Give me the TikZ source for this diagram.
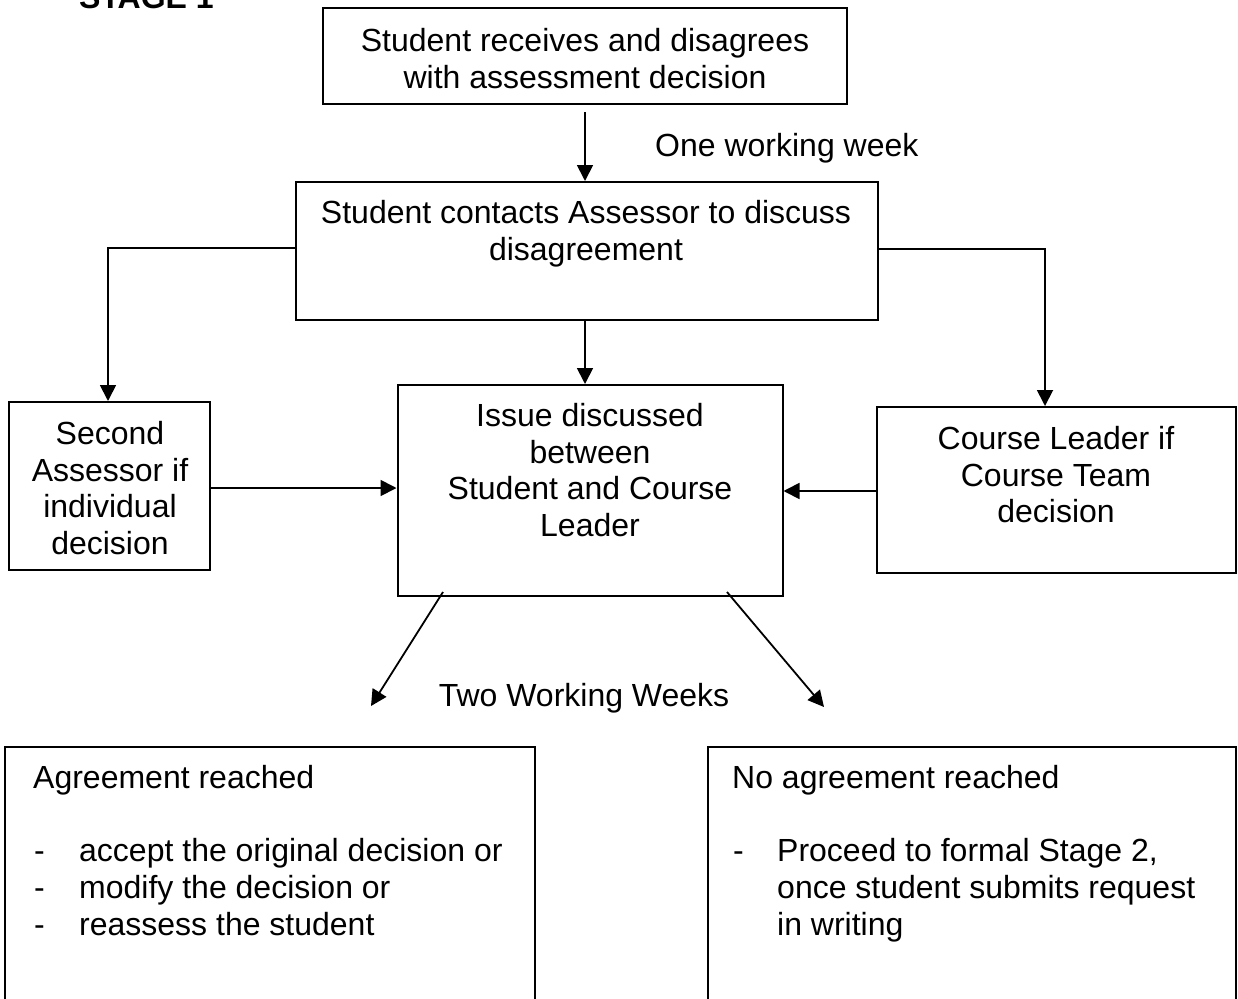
\documentclass[tikz,border=0pt]{standalone}
\usepackage{fontspec}
\setmainfont{Liberation Sans}
\usetikzlibrary{arrows.meta,scopes}

\begin{document}
\begin{tikzpicture}[x=1pt,y=-1pt,
    box/.style={rectangle,draw=black,line width=2pt,inner sep=0pt},
    txt/.style={inner sep=0pt,align=center,font=\fontsize{32}{36.8}\selectfont},
    flow/.style={line width=1.8pt,-{Triangle[length=16pt,width=16pt]}},
]
    \useasboundingbox (0,0) rectangle (1238,998);
    \clip (0,0) rectangle (1238,998);

    \node[txt,anchor=base west,font=\fontsize{32}{36.8}\selectfont\bfseries] (stage) at (79,9) {STAGE 1};

    % boxes
    \node[box,minimum width=524pt,minimum height=96pt] (receive) at (585,56) {};
    \node[box,minimum width=582pt,minimum height=138pt] (contact) at (586.5,251) {};
    \node[box,minimum width=201pt,minimum height=168pt] (second) at (109.5,486) {};
    \node[box,minimum width=385pt,minimum height=211pt] (issue) at (590,490.5) {};
    \node[box,minimum width=359pt,minimum height=166pt] (leader) at (1056.5,490) {};
    \node[box,minimum width=530pt,minimum height=353pt] (agree) at (270,923.5) {};
    \node[box,minimum width=528pt,minimum height=353pt] (noagree) at (972,923.5) {};

    % texts
    \node[txt,anchor=north] (receivetxt) at (585,28) {Student receives and disagrees\\with assessment decision};
    \node[txt,anchor=north] (contacttxt) at (586,200) {Student contacts Assessor to discuss\\disagreement};
    \node[txt,anchor=north] (secondtxt) at (110,421) {Second\\Assessor if\\individual\\decision};
    \node[txt,anchor=north] (issuetxt) at (590,403) {Issue discussed\\between\\Student and Course\\Leader};
    \node[txt,anchor=north] (leadertxt) at (1056,426) {Course Leader if\\Course Team\\decision};
    \node[txt,anchor=base west] (week) at (655,156) {One working week};
    \node[txt,anchor=base] (weeks) at (584,706) {Two Working Weeks};

    \node[txt,anchor=north west] (agreehead) at (33,765) {Agreement reached};
    \node[txt,anchor=north west,align=left] (agreelist) at (34,836)
        {\begin{tabular}{@{}p{45pt}@{}l@{}}
        - & accept the original decision or\\
        - & modify the decision or\\
        - & reassess the student
        \end{tabular}};
    \node[txt,anchor=north west] (noagreehead) at (732,765) {No agreement reached};
    \node[txt,anchor=north west,align=left] (noagreelist) at (733,836)
        {\begin{tabular}{@{}p{44pt}@{}l@{}}
        - & Proceed to formal Stage 2,\\
          & once student submits request\\
          & in writing
        \end{tabular}};

    \coordinate (agreeend) at (371,706);
    \coordinate (noagreeend) at (824,707);

    % connectors
    {[flow]
        \draw ([yshift=-7pt]receive.south) -- (receive.south |- contact.north);
        \draw ([yshift=3pt]contact.west) -| ([xshift=-1.5pt]second.north);
        \draw ([yshift=2pt]contact.east) -| ([xshift=-11.5pt]leader.north);
        \draw ([xshift=-1.5pt]contact.south) -- ([xshift=-1.5pt]contact.south |- issue.north);
        \draw ([yshift=-2pt]second.east) -- ([yshift=-2pt]second.east -| issue.west);
        \draw ([yshift=-1pt]leader.west) -- ([yshift=-1pt]leader.west -| issue.east);
        \draw ([xshift=-147pt,yshift=5pt]issue.south) -- (agreeend);
        \draw ([xshift=137pt,yshift=5pt]issue.south) -- (noagreeend);
    }
\end{tikzpicture}
\end{document}
